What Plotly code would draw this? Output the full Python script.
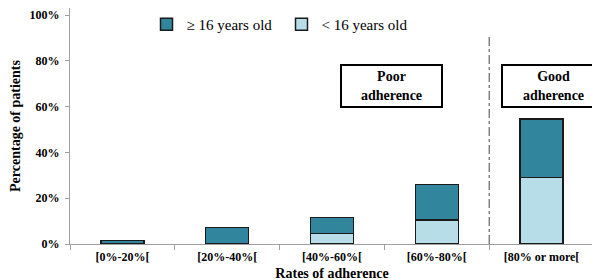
import plotly.graph_objects as go

categories = ["[0%-20%[", "[20%-40%[", "[40%-60%[", "[60%-80%[", "[80% or more["]
under16 = [0, 0, 4.5, 10.5, 29]
over16 = [1.5, 7.2, 7.0, 15.5, 25.5]
yticks = [0, 20, 40, 60, 80, 100]
ytick_labels = ["<b>0%</b>", "<b>20%</b>", "<b>40%</b>", "<b>60%</b>", "<b>80%</b>", "<b>100%</b>"]
xtick_labels = ["<b>" + c + "</b>" for c in categories]

serif = "Liberation Serif, Times New Roman, DejaVu Serif, serif"
dark = "#31859C"
light = "#B7DEE8"
edge = "#1a1a1a"

fig = go.Figure()
fig.add_bar(x=categories, y=under16, name="< 16 years old",
            marker=dict(color=light, line=dict(color=edge, width=1.5)), width=0.41)
fig.add_bar(x=categories, y=over16, name="≥ 16 years old",
            marker=dict(color=dark, line=dict(color=edge, width=1.5)), width=0.41)

fig.update_layout(
    width=600, height=280, barmode="stack",
    margin=dict(l=62, r=14, t=0, b=44, autoexpand=False),
    plot_bgcolor="white", paper_bgcolor="white",
    font=dict(family=serif, size=13, color="black"),
    showlegend=True,
    legend=dict(orientation="h", x=0.146, y=1.0, xanchor="left", yanchor="top",
                traceorder="reversed", entrywidth=90, entrywidthmode="pixels",
                font=dict(family=serif, size=15), bgcolor="rgba(0,0,0,0)",
                itemwidth=30, tracegroupgap=0),
    xaxis=dict(type="category", tickson="boundaries", ticks="outside", ticklen=5,
               tickcolor="#A0A0A0", showline=True, linecolor="#A0A0A0", linewidth=1,
               tickvals=categories, ticktext=xtick_labels, ticklabelstandoff=2,
               tickfont=dict(family=serif, size=12, color="black"),
               title=dict(text="<b>Rates of adherence</b>", font=dict(family=serif, size=14), standoff=4),
               range=[-0.5, 4.5], automargin=False),
    yaxis=dict(range=[0, 103.06], tickvals=yticks, ticktext=ytick_labels, ticks="outside",
               ticklen=4, tickcolor="#A0A0A0", showline=True, linecolor="#A0A0A0",
               showgrid=False, zeroline=False, automargin=False, ticklabelstandoff=3,
               tickfont=dict(family=serif, size=12, color="black"),
               title=dict(text="<b>Percentage of patients</b>", font=dict(family=serif, size=14), standoff=7)),
)

fig.add_shape(type="line", x0=3.5, x1=3.5, y0=0, y1=91, xref="x", yref="y",
              line=dict(color="#444444", width=1, dash="dashdot"))

for xc, txt, w in [(2.57, "<b>Poor<br>adherence</b>", 91), (4.11, "<b>Good<br>adherence</b>", 93)]:
    fig.add_annotation(x=xc, y=69.2, xref="x", yref="y", text=txt, showarrow=False,
                       font=dict(family=serif, size=14, color="black"),
                       bordercolor="black", borderwidth=2, borderpad=4, bgcolor="white",
                       width=w, height=32, align="center")

fig.write_html("out.html")
